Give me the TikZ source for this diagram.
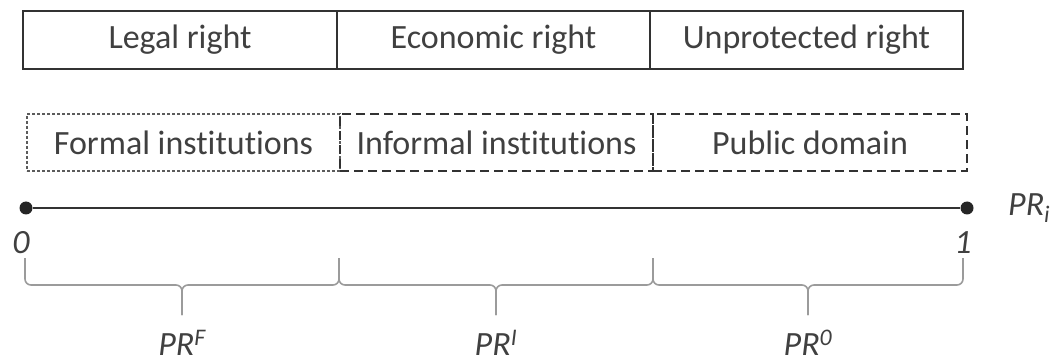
\documentclass[tikz,border=0pt]{standalone}
\usepackage{fontspec}
\setmainfont[Ligatures=NoCommon]{Carlito}
\usetikzlibrary{positioning,calc}
\definecolor{txtc}{RGB}{64,64,64}
\definecolor{linec}{RGB}{50,50,50}
\definecolor{bracec}{RGB}{155,155,155}

\begin{document}
\begin{tikzpicture}[x=1pt,y=-1pt]
\tikzstyle{rbox}=[draw=linec, line width=1.5pt, outer sep=0pt, inner sep=0pt, minimum height=58pt, text=txtc, font=\fontsize{34}{40}\selectfont];
\tikzstyle{ibox}=[rbox, minimum height=57pt, line width=1.4pt, dash pattern=on 9pt off 5pt];
\tikzstyle{fbox}=[ibox, draw=linec!80, dash pattern=on 3pt off 2pt];
\tikzstyle{dot}=[circle, fill=black!85, inner sep=0pt, minimum size=13pt];
\tikzstyle{val}=[text=txtc, font=\fontsize{34}{40}\selectfont\itshape, inner sep=0pt];
\tikzstyle{brc}=[draw=bracec, line width=1.6pt, rounded corners=6pt];

\useasboundingbox (0,0) rectangle (1056,363);

% kinds of right
\node[rbox, minimum width=314pt] (legal) at (180,40) {Legal right};
\node[rbox, minimum width=313pt, right=0pt of legal] (econ) {Economic right};
\node[rbox, minimum width=313pt, right=0pt of econ] (unprot) {Unprotected right};

% institutions
\node[fbox, minimum width=313pt] (formal) at (183.5,142.5) {Formal institutions};
\node[ibox, minimum width=313pt, right=0pt of formal] (informal) {Informal institutions};
\node[ibox, minimum width=314pt, right=0pt of informal] (public) {Public domain};

% axis
\node[dot] (p0) at (26,208) {};
\node[dot] (p1) at (967,208) {};
\draw[linec, line width=2pt] (p0) -- (p1);
\node[val, anchor=west] (pri) at (1008,208) {PR\textsubscript{i}};
\node[val] (zero) at (21,243) {0};
\node[val] (one) at (963,243) {1};

% braces
\coordinate (b0) at (25,258);
\coordinate (b1) at (339,258);
\coordinate (b2) at (653,258);
\coordinate (b3) at (963,258);

\foreach \a/\b/\s in {b0/b1/F, b1/b2/I, b2/b3/0}{
  \coordinate (m\s) at ($(\a)!.5!(\b)$);
  \draw[brc] (\a) |- ($(m\s)+(0,27)$) -- ($(m\s)+(0,57)$);
  \draw[brc] ($(m\s)+(0,57)$) -- ($(m\s)+(0,27)$) -| (\b);
  \node[val, anchor=base] (lab\s) at ($(m\s)+(0,97)$) {PR\textsuperscript{\s}};
}

\end{tikzpicture}
\end{document}
